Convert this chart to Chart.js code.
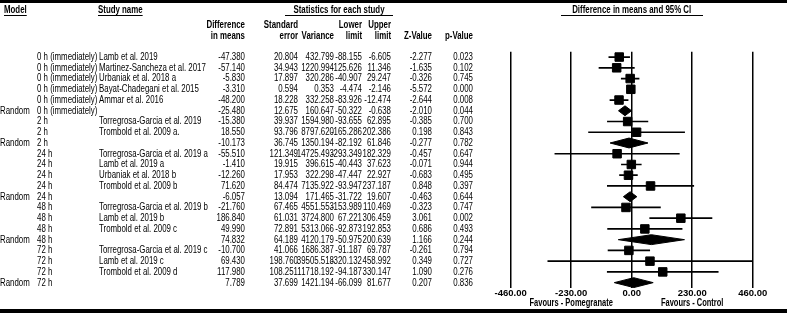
<!DOCTYPE html>
<html>
<head>
<meta charset="utf-8">
<script src="https://cdn.jsdelivr.net/npm/chart.js@4/dist/chart.umd.min.js"></script>
<style>
html,body{margin:0;padding:0;background:#fff;}
#c{display:block;}
</style>
</head>
<body>
<canvas id="c" width="787" height="313"></canvas>
<script>
// ---- data ----
const modelType = ['', '', '', '', '', 'Random', '', '', 'Random', '', '', '', '', 'Random', '', '', '', 'Random', '', '', '', 'Random'];
const subgroup = ['0 h (immediately)', '0 h (immediately)', '0 h (immediately)', '0 h (immediately)', '0 h (immediately)', '0 h (immediately)',
  '2 h', '2 h', '2 h', '24 h', '24 h', '24 h', '24 h', '24 h', '48 h', '48 h', '48 h', '48 h', '72 h', '72 h', '72 h', '72 h'];
const studyName = ['Lamb et al. 2019', 'Martinez-Sancheza et al. 2017', 'Urbaniak et al. 2018 a', 'Bayat-Chadegani et al. 2015', 'Ammar et al. 2016', '',
  'Torregrosa-Garcia et al. 2019', 'Trombold et al. 2009 a.', '',
  'Torregrosa-Garcia et al. 2019 a', 'Lamb et al. 2019 a', 'Urbaniak et al. 2018 b', 'Trombold et al. 2009 b', '',
  'Torregrosa-Garcia et al. 2019 b', 'Lamb et al. 2019 b', 'Trombold et al. 2009 c', '',
  'Torregrosa-Garcia et al. 2019 c', 'Lamb et al. 2019 c', 'Trombold et al. 2009 d', ''];
const diffMeans = [-47.380, -57.140, -5.830, -3.310, -48.200, -25.480, -15.380, 18.550, -10.173, -55.510, -1.410, -12.260, 71.620, -6.057, -21.760, 186.840, 49.990, 74.832, -10.700, 69.430, 117.980, 7.789];
const stdError = [20.804, 34.943, 17.897, 0.594, 18.228, 12.675, 39.937, 93.796, 36.745, 121.349, 19.915, 17.953, 84.474, 13.094, 67.465, 61.031, 72.891, 64.189, 41.066, 198.760, 108.251, 37.699];
const variance = [432.799, 1220.994, 320.286, 0.353, 332.258, 160.647, 1594.980, 8797.620, 1350.194, 14725.493, 396.615, 322.298, 7135.922, 171.465, 4551.553, 3724.800, 5313.066, 4120.179, 1686.387, 39505.518, 11718.192, 1421.194];
const lowerLimit = [-88.155, -125.626, -40.907, -4.474, -83.926, -50.322, -93.655, -165.286, -82.192, -293.349, -40.443, -47.447, -93.947, -31.722, -153.989, 67.221, -92.873, -50.975, -91.187, -320.132, -94.187, -66.099];
const upperLimit = [-6.605, 11.346, 29.247, -2.146, -12.474, -0.638, 62.895, 202.386, 61.846, 182.329, 37.623, 22.927, 237.187, 19.607, 110.469, 306.459, 192.853, 200.639, 69.787, 458.992, 330.147, 81.677];
const zValue = [-2.277, -1.635, -0.326, -5.572, -2.644, -2.010, -0.385, 0.198, -0.277, -0.457, -0.071, -0.683, 0.848, -0.463, -0.323, 3.061, 0.686, 1.166, -0.261, 0.349, 1.090, 0.207];
const pValue = [0.023, 0.102, 0.745, 0.000, 0.008, 0.044, 0.700, 0.843, 0.782, 0.647, 0.944, 0.495, 0.397, 0.644, 0.747, 0.002, 0.493, 0.244, 0.794, 0.727, 0.276, 0.836];
const axisTicks = [-460, -230, 0, 230, 460];
const favourLabels = [{at: -230, text: 'Favours - Pomegranate'}, {at: 230, text: 'Favours - Control'}];

// ---- datasets built from data ----
const nRows = diffMeans.length;
const squares = [];
const whiskers = [];
const diamondSets = [];
const DH = 0.46;
for (let i = 0; i < nRows; i++) {
  if (modelType[i] === 'Random') {
    diamondSets.push({
      type: 'line', order: 2,
      data: [{x: lowerLimit[i], y: i}, {x: diffMeans[i], y: i - DH}, {x: upperLimit[i], y: i}],
      borderColor: '#000', borderWidth: 1, backgroundColor: '#000', pointRadius: 0, fill: '+1', tension: 0
    });
    diamondSets.push({
      type: 'line', order: 2,
      data: [{x: lowerLimit[i], y: i}, {x: diffMeans[i], y: i + DH}, {x: upperLimit[i], y: i}],
      borderColor: '#000', borderWidth: 1, backgroundColor: '#000', pointRadius: 0, fill: false, tension: 0
    });
  } else {
    squares.push({x: diffMeans[i], y: i});
    whiskers.push({x: lowerLimit[i], y: i}, {x: upperLimit[i], y: i}, {x: upperLimit[i], y: null});
  }
}

const SX = 0.75;
const FS = 10.5;
const FONT = '"Liberation Sans", Arial, sans-serif';
function txt(ctx, s, x, y, align, bold, size) {
  ctx.save();
  ctx.font = (bold ? 'bold ' : '') + (size || FS) + 'px ' + FONT;
  ctx.textBaseline = 'middle';
  ctx.textAlign = align;
  ctx.fillStyle = '#000';
  ctx.translate(x, y);
  ctx.scale(SX, 1);
  ctx.fillText(s, 0, 0);
  const w = ctx.measureText(s).width * SX;
  ctx.restore();
  return w;
}
function underline(ctx, x1, x2, y) {
  ctx.save();
  ctx.fillStyle = '#000';
  ctx.fillRect(x1, y, x2 - x1, 1);
  ctx.restore();
}

const COL = {model: 37, random: 0, study: 99, diff: 245, se: 298, vari: 334, low: 362, up: 391, z: 432, p: 473};

const tablePlugin = {
  id: 'tablePlugin',
  beforeDraw(chart) {
    const ctx = chart.ctx;
    ctx.save();
    ctx.fillStyle = '#fff';
    ctx.fillRect(0, 0, chart.width, chart.height);
    ctx.restore();
  },
  afterDraw(chart) {
    const ctx = chart.ctx;
    const ys = chart.scales.y;
    const xs = chart.scales.x;
    // bands
    ctx.save();
    ctx.fillStyle = '#000';
    ctx.fillRect(0, 0, chart.width, 3);
    ctx.fillRect(0, 309, chart.width, 4);
    ctx.restore();
    // headers
    const h1 = 10, h2 = 25, h3 = 36;
    let w = txt(ctx, 'Model', 4, h1, 'left', true);
    underline(ctx, 4, 4 + w, h1 + 5);
    w = txt(ctx, 'Study name', 98, h1, 'left', true);
    underline(ctx, 98, 98 + w, h1 + 5);
    txt(ctx, 'Statistics for each study', 339, h1, 'center', true);
    underline(ctx, 285, 393, h1 + 5);
    const cx = xs.getPixelForValue(0);
    txt(ctx, 'Difference in means and 95% CI', cx, h1, 'center', true);
    underline(ctx, 561, 703, h1 + 5);
    txt(ctx, 'Difference', COL.diff, h2, 'right', true);
    txt(ctx, 'in means', COL.diff, h3, 'right', true);
    txt(ctx, 'Standard', COL.se, h2, 'right', true);
    txt(ctx, 'error', COL.se, h3, 'right', true);
    txt(ctx, 'Variance', COL.vari, h3, 'right', true);
    txt(ctx, 'Lower', COL.low, h2, 'right', true);
    txt(ctx, 'limit', COL.low, h3, 'right', true);
    txt(ctx, 'Upper', COL.up, h2, 'right', true);
    txt(ctx, 'limit', COL.up, h3, 'right', true);
    txt(ctx, 'Z-Value', COL.z, h3, 'right', true);
    txt(ctx, 'p-Value', COL.p, h3, 'right', true);
    // rows
    for (let i = 0; i < nRows; i++) {
      const y = ys.getPixelForValue(i);
      if (modelType[i] === 'Random') {
        txt(ctx, 'Random', COL.random, y, 'left', false);
        txt(ctx, subgroup[i], COL.model, y, 'left', false);
      } else {
        ctx.save();
        ctx.beginPath();
        ctx.rect(COL.model, y - 8, COL.study - COL.model - 1, 16);
        ctx.clip();
        txt(ctx, subgroup[i], COL.model, y, 'left', false);
        ctx.restore();
        txt(ctx, studyName[i], COL.study, y, 'left', false);
      }
      txt(ctx, diffMeans[i].toFixed(3), COL.diff, y, 'right', false);
      txt(ctx, stdError[i].toFixed(3), COL.se, y, 'right', false);
      txt(ctx, variance[i].toFixed(3), COL.vari, y, 'right', false);
      txt(ctx, lowerLimit[i].toFixed(3), COL.low, y, 'right', false);
      txt(ctx, upperLimit[i].toFixed(3), COL.up, y, 'right', false);
      txt(ctx, zValue[i].toFixed(3), COL.z, y, 'right', false);
      txt(ctx, pValue[i].toFixed(3), COL.p, y, 'right', false);
    }
    // favours labels
    favourLabels.forEach(f => {
      txt(ctx, f.text, xs.getPixelForValue(f.at), 303.5, 'center', true, 10);
    });
  }
};

new Chart(document.getElementById('c'), {
  type: 'scatter',
  data: {
    datasets: [
      {
        type: 'scatter', order: 0,
        data: squares,
        pointStyle: 'rect', pointRadius: 6, pointHoverRadius: 6,
        backgroundColor: '#000', borderColor: '#000', borderWidth: 1
      },
      {
        type: 'line', order: 1,
        data: whiskers,
        borderColor: '#000', borderWidth: 1.7, pointRadius: 0, spanGaps: false, fill: false, tension: 0
      },
      ...diamondSets
    ]
  },
  options: {
    responsive: false,
    animation: false,
    events: [],
    layout: {padding: {left: 510.7, right: 34.3, top: 51.7, bottom: 0}},
    scales: {
      x: {
        type: 'linear', min: -460, max: 460,
        afterBuildTicks: (axis) => { axis.ticks = axisTicks.map(v => ({value: v})); },
        afterFit: (axis) => { axis.height = 25; },
        ticks: {
          callback: (v) => Number(v).toFixed(2),
          color: '#000',
          font: {family: FONT, size: 9.5, weight: 'bold'},
          padding: 0, maxRotation: 0, autoSkip: false
        },
        grid: {color: '#000', lineWidth: 1.5, drawTicks: false, tickLength: 0},
        border: {display: false}
      },
      y: {type: 'linear', min: -0.5, max: nRows - 0.5, reverse: true, display: false}
    },
    plugins: {legend: {display: false}, tooltip: {enabled: false}}
  },
  plugins: [tablePlugin]
});
</script>
</body>
</html>
